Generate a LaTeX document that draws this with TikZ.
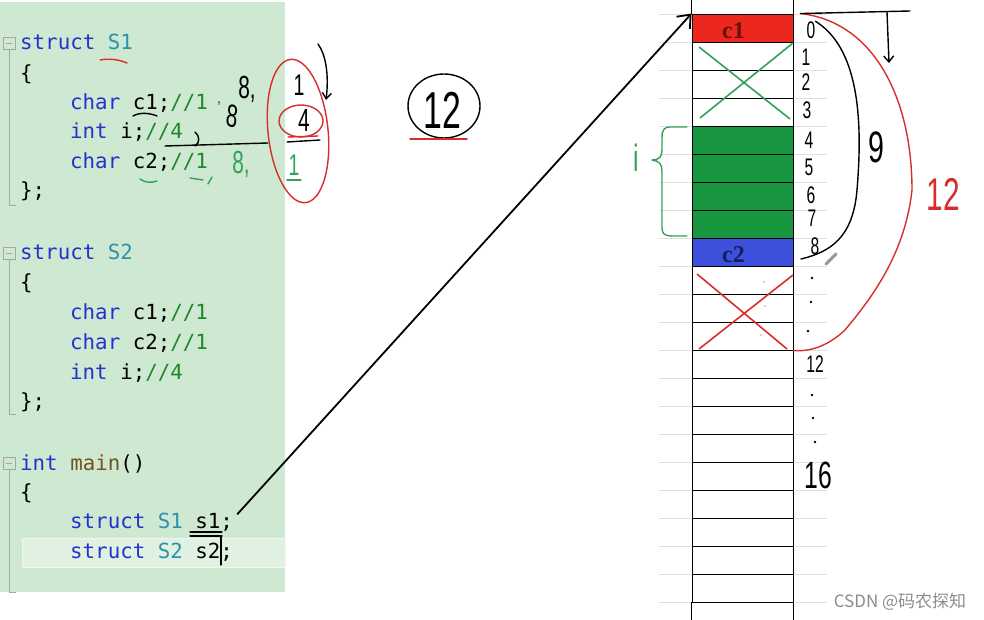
\documentclass[tikz,border=0pt]{standalone}
\usepackage{fontspec}
\setmainfont{Liberation Serif}
\setmonofont{DejaVu Sans Mono}
\newfontfamily\handfont{Liberation Sans}
\newfontfamily\cjkfont{Noto Sans CJK SC}
\usetikzlibrary{arrows.meta,positioning,backgrounds}
\definecolor{panelgreen}{RGB}{206,232,209}
\definecolor{linegreen}{RGB}{224,241,226}
\definecolor{kwblue}{RGB}{35,50,205}
\definecolor{tyteal}{RGB}{43,145,175}
\definecolor{cmgreen}{RGB}{30,135,40}
\definecolor{fnbrown}{RGB}{116,83,31}
\definecolor{cellred}{RGB}{236,40,30}
\definecolor{cellgreen}{RGB}{24,150,64}
\definecolor{cellblue}{RGB}{60,80,220}
\definecolor{inkred}{RGB}{105,15,10}
\definecolor{inkblue}{RGB}{20,30,95}
\definecolor{penred}{RGB}{215,45,45}
\definecolor{pengreen}{RGB}{50,160,90}
\newcommand{\kw}[1]{\textcolor{kwblue}{#1}}
\newcommand{\ty}[1]{\textcolor{tyteal}{#1}}
\newcommand{\cm}[1]{\textcolor{cmgreen}{#1}}

\begin{document}
\begin{tikzpicture}[
    x=1pt, y=-1pt,
    code/.style={anchor=base west, inner sep=0pt, font=\ttfamily\fontsize{20.8}{25}\selectfont},
    cell/.style={draw, line width=0.9pt, minimum width=101pt, minimum height=28pt, inner sep=0pt},
    celllabel/.style={inner sep=0pt, font=\rmfamily\bfseries\fontsize{24}{24}\selectfont, xshift=-9pt, yshift=-3pt},
    guide/.style={draw=black!12, line width=0.8pt},
    fold/.style={draw=black!35, line width=0.8pt},
    pen/.style={line width=1.4pt, line cap=round, line join=round},
    hand/.style={inner sep=0pt, font=\handfont\fontsize{#1}{#1}\selectfont, xscale=0.65},
    hand/.default=24,
    bigarrow/.style={-{Straight Barb[length=11pt, width=18pt]}, line width=1.8pt}
]
\useasboundingbox (0,0) rectangle (984,620);

% code panel
\fill[panelgreen] (0,2) rectangle (285,592);
\fill[linegreen] (22,538) rectangle (285,567);
\draw[white!50!linegreen, line width=1pt] (22,538) rectangle (285,567);
\foreach \t/\b in {37/205,247/414,457/592} {
  \draw[fold] (3,\t) rectangle (15,{\t+12});
  \draw[fold] (6,{\t+6}) -- (12,{\t+6});
  \draw[fold] (9,{\t+12}) -- (9,\b) -- (16,\b);
}

\node[code] (a1) at (20,50) {\kw{struct} \ty{S1}};
\node[code] (a2) at (20,81) {\{};
\node[code] (a3) at (70,110) {\kw{char} c1;\cm{//1}};
\node[code] (a4) at (70,139) {\kw{int} i;\cm{//4}};
\node[code] (a5) at (70,169) {\kw{char} c2;\cm{//1}};
\node[code] (a6) at (20,198) {\};};

\node[code] (b1) at (20,259) {\kw{struct} \ty{S2}};
\node[code] (b2) at (20,289) {\{};
\node[code] (b3) at (70,319) {\kw{char} c1;\cm{//1}};
\node[code] (b4) at (70,349) {\kw{char} c2;\cm{//1}};
\node[code] (b5) at (70,379) {\kw{int} i;\cm{//4}};
\node[code] (b6) at (20,408) {\};};

\node[code] (c1) at (20,470) {\kw{int} \textcolor{fnbrown}{main}()};
\node[code] (c2) at (20,499) {\{};
\node[code] (c3) at (70,528) {\kw{struct} \ty{S1} s1;};
\node[code] (c4) at (70,558) {\kw{struct} \ty{S2} s2;};

% pen marks on the code
\draw[pen, penred] (100,60) .. controls (110,58) and (120,60) .. (127,63);
\draw[pen] (133,116) .. controls (140,112) and (150,113) .. (157,116);
\node[hand=32] (e1) at (247,89) {8,};
\node[hand=32, rotate=-10] (e2) at (232,116) {8};
\node[hand=16] (e3) at (219,104) {,};
\draw[pen] (195,132) .. controls (200,136) and (200,143) .. (195,146);
\draw[pen] (165,146) -- (268,143) (287,142) -- (320,140);
\draw[pen, penred] (288,137) -- (318,136);
\draw[pen, pengreen] (140,179) .. controls (145,183) and (152,183) .. (157,181);
\draw[pen, pengreen] (190,178) -- (203,180) (212,177) -- (208,184);
\node[hand=32, text=pengreen] (e4) at (241,164) {8,};
\node[hand=30, text=pengreen] (e5) at (294,165) {1};
\draw[pen, pengreen] (287,180) -- (301,180);
\node[hand=30] (e6) at (299,85) {1};
\node[hand=32] (e7) at (304,120) {4};
\draw[pen, penred, rotate around={6:(298,131)}] (298,131) ellipse [x radius=30pt, y radius=72pt];
\draw[pen, penred] (301,121) ellipse [x radius=22pt, y radius=16pt];
\draw[pen, -{Straight Barb[length=6pt, width=9pt]}] (318,44) .. controls (326,55) and (329,75) .. (326,100);
\draw[pen, line width=1.2pt] (190,532) -- (222,532) (190,536) -- (222,536) (221,537) -- (221,565);

% circled total
\node[hand=52] (total) at (442,110) {12};
\draw[pen] (444,106) ellipse [x radius=36pt, y radius=32pt];
\draw[pen, penred] (410,139) -- (467,139);

% memory
\foreach \i in {0,...,21} \draw[guide] (659,{14+28*\i}) -- (827,{14+28*\i});
\foreach \i in {0,...,20} \node[cell] (mem\i) at (742.5,{28+28*\i}) {};
\draw[line width=0.9pt] (mem0.north west) -- ++(0,-14) (mem0.north east) -- ++(0,-14);
\draw[line width=0.9pt] (mem20.south west) -- ++(0,18) (mem20.south east) -- ++(0,18);
\begin{scope}[on background layer]
  \fill[cellred] (mem0.north west) rectangle (mem0.south east);
  \fill[cellgreen] (mem4.north west) rectangle (mem7.south east);
  \fill[cellblue] (mem8.north west) rectangle (mem8.south east);
\end{scope}
\node[celllabel, text=inkred] at (mem0) {c1};
\node[celllabel, text=inkblue] at (mem8) {c2};
\draw[pengreen, line width=1.6pt] (699,47) -- (790,119) (793,43) -- (700,118);
\draw[penred, line width=1.6pt] (697,274) -- (787,349) (793,275) -- (699,349);
\foreach \p in {(764,282),(765,306),(761,335)} \fill[black!35] \p circle (0.9);

% padding brace
\draw[pen, pengreen] (687,127) -- (670,127) .. controls (664,127) and (662,130) .. (662,138) -- (662,150)
  .. controls (662,157) and (659,160) .. (652,160) .. controls (659,161) and (662,164) .. (662,171)
  -- (662,228) .. controls (662,234) and (665,236) .. (672,236) -- (687,236);
\node[hand=38, text=pengreen] (ilabel) at (636,158) {i};

% offsets
\foreach \t/\x/\y in {0/811/30,1/806/57,2/806/82,3/807/110,4/809/140,5/809/167,6/811/195,7/812/218,8/815/246,12/815/364}
  \node[hand] (n\t) at (\x,\y) {\t};
\node[hand=38] (n16) at (818,475) {16};
\foreach \p in {(812,278),(811,302),(808,331),(812,395),(813,418),(815,442)} \fill \p circle (1.3);

% sizes
\draw[pen] (n0.north east) .. controls (862,50) and (862,130) .. (857,190)
  .. controls (853,238) and (830,252) .. (801,259);
\node[hand=44] (nine) at (876,147) {9};
\draw[pen, penred] ([xshift=7pt]mem0.north east) .. controls (875,22) and (912,100) .. (912,190)
  .. controls (905,255) and (870,300) .. (845,330) .. controls (828,346) and (810,352) .. (mem11.south east);
\node[hand=46, text=penred] (twelve) at (943,194) {12};
\draw[pen] ([xshift=7pt]mem0.north east) -- (910,11);
\draw[pen, -{Straight Barb[length=6pt, width=10pt]}] (887,12) -- (889,63);
\draw[black!40, line width=3pt, line cap=round] (826,264) -- (836,254);

% s1 points at the first byte
\draw[bigarrow] ([xshift=4pt, yshift=-2pt]c3.north east) -- (mem0.north west);

\node[font=\cjkfont\fontsize{17}{17}\selectfont, text=black!45] (mark) at (900,602) {CSDN @码农探知};
\end{tikzpicture}
\end{document}
